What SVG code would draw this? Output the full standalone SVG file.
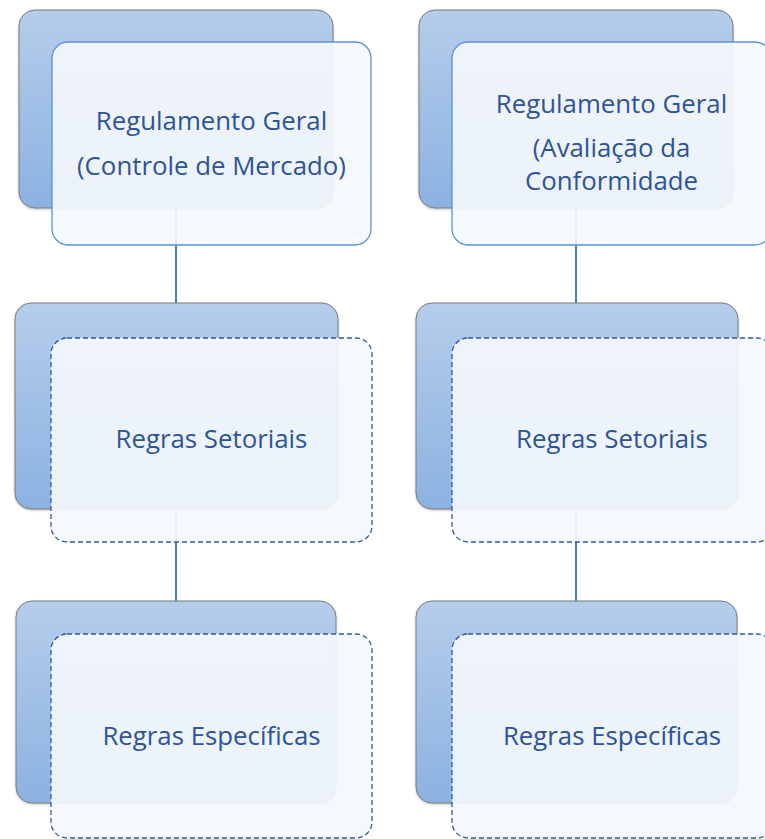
<svg xmlns="http://www.w3.org/2000/svg" width="765" height="839" viewBox="0 0 765 839">
<defs>
<linearGradient id="bg" x1="0" y1="0" x2="0" y2="1">
<stop offset="0" stop-color="#b5cdea"/>
<stop offset="1" stop-color="#8cb2e2"/>
</linearGradient>
<filter id="sh" x="-5%" y="-5%" width="110%" height="115%">
<feDropShadow dx="0" dy="1" stdDeviation="1" flood-color="#000" flood-opacity="0.25"/>
</filter>
</defs>
<style>
.back{fill:url(#bg);stroke:#7a7a7a;stroke-width:1;filter:url(#sh)}
.front{fill:#f4f7fc;fill-opacity:0.92;stroke:#5a93d3;stroke-width:1.3}
.dash{stroke:#2f5a9e;stroke-dasharray:5 3}
.t{font-family:"Open Sans","Noto Sans",sans-serif;font-size:25.8px;fill:#2e5496;text-anchor:middle}
.con{stroke:#4a7dbd;stroke-width:2;fill:none}
</style>
<rect width="765" height="839" fill="#ffffff"/>
<g id="connectors">
<line class="con" x1="176" y1="205" x2="176" y2="306"/>
<line class="con" x1="176" y1="505" x2="176" y2="604"/>
<line class="con" x1="576" y1="205" x2="576" y2="306"/>
<line class="con" x1="576" y1="505" x2="576" y2="604"/>
</g>
<g id="n1">
<rect class="back" x="19" y="10" width="314" height="198" rx="16"/>
<rect class="front" x="52" y="42" width="319" height="203" rx="16"/>
<text class="t" x="211.5" y="130">Regulamento Geral</text>
<text class="t" x="211.5" y="175">(Controle de Mercado)</text>
</g>
<g id="n2">
<rect class="back" x="419" y="10" width="314" height="198" rx="16"/>
<rect class="front" x="452" y="42" width="319" height="203" rx="16"/>
<text class="t" x="611.5" y="113">Regulamento Geral</text>
<text class="t" x="611.5" y="157">(Avaliação da</text>
<text class="t" x="611.5" y="190">Conformidade</text>
</g>
<g id="n3">
<rect class="back" x="15" y="303" width="323" height="206" rx="16"/>
<rect class="front dash" x="51" y="338" width="321" height="204" rx="16"/>
<text class="t" x="211.5" y="448">Regras Setoriais</text>
</g>
<g id="n4">
<rect class="back" x="416" y="303" width="322" height="206" rx="16"/>
<rect class="front dash" x="452" y="338" width="321" height="204" rx="16"/>
<text class="t" x="612" y="448">Regras Setoriais</text>
</g>
<g id="n5">
<rect class="back" x="16" y="601" width="320" height="202" rx="16"/>
<rect class="front dash" x="51" y="634" width="321" height="204" rx="16"/>
<text class="t" x="211.5" y="745">Regras Específicas</text>
</g>
<g id="n6">
<rect class="back" x="416" y="601" width="321" height="202" rx="16"/>
<rect class="front dash" x="452" y="634" width="321" height="204" rx="16"/>
<text class="t" x="612" y="745">Regras Específicas</text>
</g>
</svg>
